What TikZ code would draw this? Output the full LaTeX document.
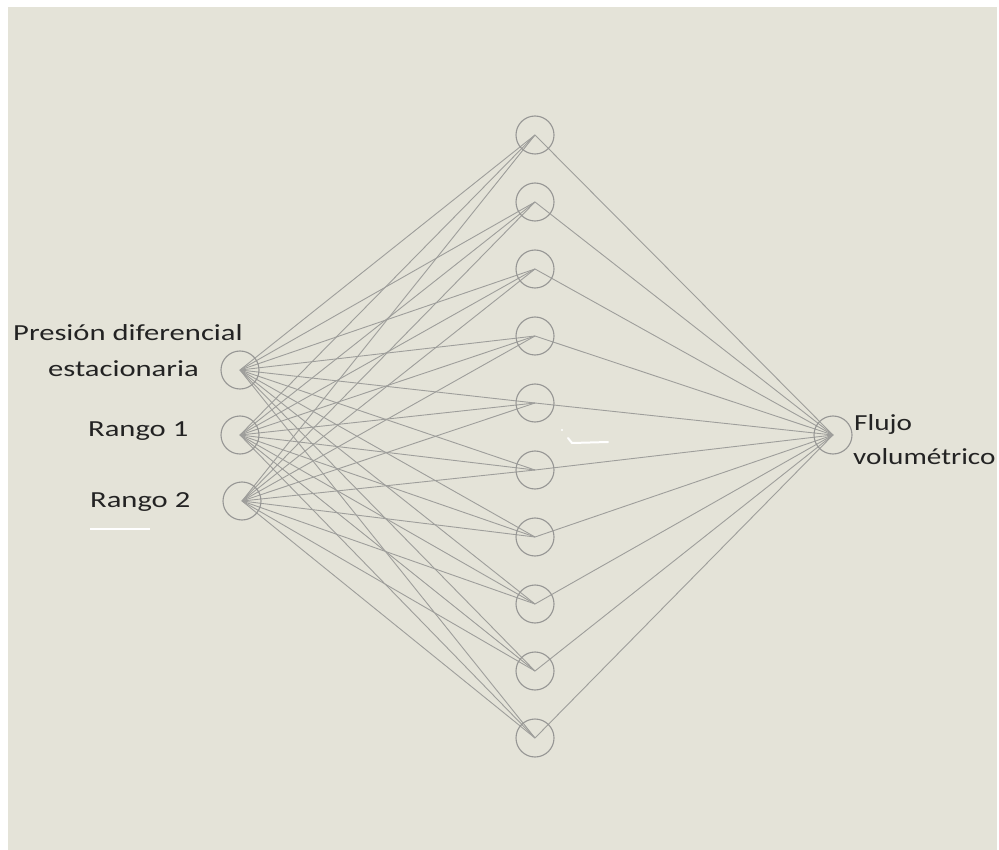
\documentclass[tikz,border=0pt]{standalone}
\usepackage{fontspec}
\newfontfamily\lblfont[FakeStretch=1.33]{Carlito}
\newfontfamily\lblfontb[FakeStretch=1.27]{Carlito}
\definecolor{bg}{RGB}{228,227,216}
\definecolor{edgec}{RGB}{158,158,155}
\definecolor{ringc}{RGB}{150,150,148}
\definecolor{txt}{RGB}{35,35,35}
\tikzset{
  neuron/.style={circle, draw=ringc, line width=1.1pt, minimum size=38pt, inner sep=0pt},
  conn/.style={draw=edgec, line width=0.9pt},
  lbl/.style={font=\lblfont\fontsize{23}{26}\selectfont, text=txt, inner sep=0pt},
  lblr/.style={font=\lblfontb\fontsize{23}{26}\selectfont, text=txt, inner sep=0pt},
}
\begin{document}
\begin{tikzpicture}[x=1pt,y=-1pt]
\useasboundingbox (0,0) rectangle (999,850);
\fill[white] (0,0) rectangle (999,850);
\fill[bg] (8,7) rectangle (997,850);
% coordinates of neuron centres
\coordinate (c1) at (240,370);
\coordinate (c2) at (240,435);
\coordinate (c3) at (242,501);
\foreach \i in {1,...,10}{
  \coordinate (d\i) at (535,{135+67*(\i-1)});
}
\coordinate (co) at (833,435);
% connections
\foreach \a in {1,2,3}{
  \foreach \i in {1,...,10}{
    \draw[conn] (c\a) -- (d\i);
  }
}
\foreach \i in {1,...,10}{
  \draw[conn] (d\i) -- (co);
}
% neurons
\node[neuron] (in1) at (c1) {};
\node[neuron] (in2) at (c2) {};
\node[neuron] (in3) at (c3) {};
\foreach \i in {1,...,10}{
  \node[neuron] (h\i) at (d\i) {};
}
\node[neuron] (out) at (co) {};
% labels
\node[lbl, anchor=base west] (t1) at (13,341) {Presión diferencial};
\node[lbl, anchor=base west] (t2) at (48,377) {estacionaria};
\node[lbl, anchor=base west] (t3) at (88,436) {Rango 1};
\node[lbl, anchor=base west] (t4) at (90,507) {Rango 2};
\node[lblr, anchor=base west] (t5) at (854,430) {Flujo};
\node[lblr, anchor=base west] (t6) at (853,464) {volumétrico};
% white marks
\draw[white, line width=2pt] (90,529) -- (150,529);
\draw[white, line width=2pt, line cap=round] (568,438) -- (572,443) -- (608,442);
\fill[white] (562,430) circle (1.2);
\end{tikzpicture}
\end{document}
